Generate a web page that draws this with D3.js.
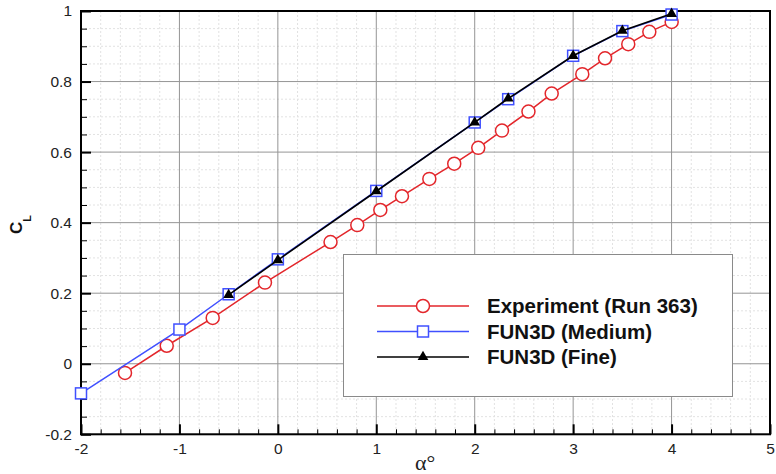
<!DOCTYPE html>
<html><head><meta charset="utf-8">
<script src="https://cdn.jsdelivr.net/npm/d3@7"></script>
<style>body{margin:0;background:#fff;} svg{display:block;}</style>
</head><body>
<svg id="chart" width="776" height="474"></svg>
<script>
// ---- data ----
const expAlpha = [-1.553,-1.129,-0.662,-0.131,0.535,0.807,1.041,1.261,1.539,1.792,2.036,2.277,2.546,2.782,3.093,3.324,3.560,3.774,4.001];
const expCL    = [-0.026,0.051,0.130,0.230,0.345,0.393,0.436,0.475,0.524,0.567,0.612,0.661,0.715,0.766,0.821,0.866,0.906,0.941,0.969];
const medAlpha = [-2,-1,-0.5,0,1,2,2.34,3,3.5,4];
const medCL    = [-0.084,0.097,0.197,0.296,0.490,0.684,0.750,0.873,0.943,0.990];
const fineAlpha = [-0.5,0,1,2,2.34,3,3.5,4];
const fineCL    = [0.195,0.294,0.489,0.684,0.752,0.873,0.944,0.992];
const xTicks = [-2,-1,0,1,2,3,4,5];
const xTickLabels = ["-2","-1","0","1","2","3","4","5"];
const yTicks = [-0.2,0,0.2,0.4,0.6,0.8,1];
const yTickLabels = ["-0.2","0","0.2","0.4","0.6","0.8","1"];
const seriesNames = ["Experiment (Run 363)","FUN3D (Medium)","FUN3D (Fine)"];
const seriesColors = ["#e3262b","#4050ff","#000000"];

// ---- layout ----
const L = 81, R = 770, T = 11, B = 434.3;
const svg = d3.select("#chart");
const x = d3.scaleLinear().domain([-2,5]).range([L,R]);
const y = d3.scaleLinear().domain([-0.2,1]).range([B,T]);

const xMinor = d3.range(-2,5.0001,0.2).map(v=>+v.toFixed(2)).filter(v=>!xTicks.some(t=>Math.abs(t-v)<1e-6));
const yMinor = d3.range(-0.2,1.0001,0.05).map(v=>+v.toFixed(3)).filter(v=>!yTicks.some(t=>Math.abs(t-v)<1e-6));

// minor grid
const grid = svg.append("g");
grid.selectAll(".mx").data(xMinor).join("line")
  .attr("x1",d=>x(d)).attr("x2",d=>x(d)).attr("y1",T).attr("y2",B)
  .attr("stroke","#e2e2e2").attr("stroke-width",1).attr("stroke-dasharray","2,2");
grid.selectAll(".my").data(yMinor).join("line")
  .attr("y1",d=>y(d)).attr("y2",d=>y(d)).attr("x1",L).attr("x2",R)
  .attr("stroke","#e2e2e2").attr("stroke-width",1).attr("stroke-dasharray","2,2");
// major grid
grid.selectAll(".gx").data(xTicks).join("line")
  .attr("x1",d=>x(d)).attr("x2",d=>x(d)).attr("y1",T).attr("y2",B)
  .attr("stroke","#959595").attr("stroke-width",1);
grid.selectAll(".gy").data(yTicks).join("line")
  .attr("y1",d=>y(d)).attr("y2",d=>y(d)).attr("x1",L).attr("x2",R)
  .attr("stroke","#959595").attr("stroke-width",1);

// axes
const font = "'Liberation Sans', Arial, Helvetica, sans-serif";
const xAxis = svg.append("g").attr("transform",`translate(0,${B})`)
  .call(d3.axisBottom(x).tickValues(xTicks).tickSize(-10).tickPadding(9)
        .tickFormat((d,i)=>xTickLabels[i]));
const xAxisMinor = svg.append("g").attr("transform",`translate(0,${B})`)
  .call(d3.axisBottom(x).tickValues(xMinor).tickSize(-5).tickFormat(""));
const yAxis = svg.append("g").attr("transform",`translate(${L},0)`)
  .call(d3.axisLeft(y).tickValues(yTicks).tickSize(-10).tickPadding(9)
        .tickFormat((d,i)=>yTickLabels[i]));
const yAxisMinor = svg.append("g").attr("transform",`translate(${L},0)`)
  .call(d3.axisLeft(y).tickValues(yMinor).tickSize(-6).tickFormat(""));
[xAxis,xAxisMinor,yAxis,yAxisMinor].forEach(g=>{
  g.select(".domain").remove();
  g.selectAll("line").attr("stroke","#000");
  g.selectAll("text").attr("font-family",font).attr("font-size","15.5px").attr("fill","#222");
});
xAxis.selectAll("line").attr("stroke-width",2);
yAxis.selectAll("line").attr("stroke-width",2);
xAxisMinor.selectAll("line").attr("stroke-width",1);
yAxisMinor.selectAll("line").attr("stroke-width",1);

// frame
svg.append("rect").attr("x",L).attr("y",T).attr("width",R-L).attr("height",B-T)
  .attr("fill","none").attr("stroke","#000").attr("stroke-width",2);

// legend box
svg.append("rect").attr("x",343.5).attr("y",254.5).attr("width",389).attr("height",142)
  .attr("fill","#fff").attr("stroke","#8a8a8a").attr("stroke-width",1);

// series
const line = d3.line().x(d=>x(d[0])).y(d=>y(d[1]));
const expData = expAlpha.map((a,i)=>[a,expCL[i]]);
const medData = medAlpha.map((a,i)=>[a,medCL[i]]);
const fineData = fineAlpha.map((a,i)=>[a,fineCL[i]]);

function drawMarker(g, kind, cx, cy, color){
  if(kind===0){
    g.append("circle").attr("cx",cx).attr("cy",cy).attr("r",6.5)
      .attr("fill","#fff").attr("stroke",color).attr("stroke-width",1.5);
  } else if(kind===1){
    g.append("rect").attr("x",cx-5.5).attr("y",cy-5.5).attr("width",11).attr("height",11)
      .attr("fill","#fff").attr("stroke",color).attr("stroke-width",1.5);
  } else {
    g.append("path").attr("transform",`translate(${cx},${cy})`)
      .attr("d",d3.symbol(d3.symbolTriangle,50)()).attr("fill",color);
  }
}

[expData,medData,fineData].forEach((data,k)=>{
  const g = svg.append("g");
  g.append("path").datum(data).attr("d",line).attr("fill","none")
    .attr("stroke",seriesColors[k]).attr("stroke-width",k===2?1.6:1.5);
  data.forEach(d=>drawMarker(g,k,x(d[0]),y(d[1]),seriesColors[k]));
});

// legend entries
const legY = [306,331.5,357];
seriesNames.forEach((name,k)=>{
  const g = svg.append("g");
  g.append("line").attr("x1",377).attr("x2",469).attr("y1",legY[k]).attr("y2",legY[k])
    .attr("stroke",seriesColors[k]).attr("stroke-width",1.5);
  drawMarker(g,k,423,legY[k],seriesColors[k]);
  g.append("text").attr("x",487).attr("y",legY[k]+7.3).text(name)
    .attr("font-family",font).attr("font-weight","bold").attr("font-size","20.5px").attr("fill","#111");
});

// axis titles
const yt = svg.append("text").attr("transform","translate(22,234) rotate(-90)")
  .attr("font-family",font).attr("font-weight","bold").attr("fill","#111");
yt.append("tspan").attr("font-size","17px").text("C");
yt.append("tspan").attr("font-size","11px").attr("dy",9).text("L");

svg.append("text").attr("x",415).attr("y",470)
  .attr("font-family","'Liberation Serif','Times New Roman',serif").attr("font-size","22px").attr("fill","#222")
  .text("α°");
</script>
</body></html>
